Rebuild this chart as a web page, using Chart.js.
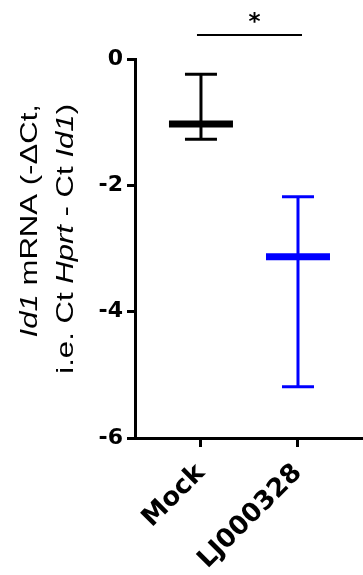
<!DOCTYPE html>
<html>
<head>
<meta charset="utf-8">
<script src="https://cdn.jsdelivr.net/npm/chart.js@4.4.0/dist/chart.umd.min.js"></script>
<style>
  html, body { margin: 0; padding: 0; background: #fff; }
  #wrap { width: 363px; height: 575px; }
</style>
</head>
<body>
<div id="wrap"><canvas id="myChart"></canvas></div>
<script>
// values
const groups = ['Mock', 'LJ000328'];
const means = [-1.03, -3.13];
const errHigh = [-0.24, -2.18];
const errLow = [-1.27, -5.19];
const yTicks = [0, -2, -4, -6];
const sigText = '*';

const groupColors = ['#000000', '#0000ff'];

// axis title, split in runs so the gene names can be italic
const titleLines = [
    [{ t: 'Id1', it: true }, { t: ' mRNA (-\u0394Ct,' }],
    [{ t: 'i.e. Ct ' }, { t: 'Hprt', it: true }, { t: ' - Ct ' }, { t: 'Id1', it: true }, { t: ')' }]
];

// Build the error bar datasets, one set per group
const datasets = [];
groups.forEach((g, i) => {
    const color = groupColors[i];
    // vertical whisker
    datasets.push({
        data: [{ x: i, y: errHigh[i] }, { x: i, y: errLow[i] }],
        showLine: true,
        borderColor: color,
        borderWidth: 3,
        pointRadius: 0
    });
    // caps
    datasets.push({
        data: [{ x: i, y: errHigh[i] }, { x: i, y: errLow[i] }],
        pointStyle: 'line',
        pointRadius: 16,
        pointBorderWidth: 3,
        pointBorderColor: color
    });
    // mean line
    datasets.push({
        data: [{ x: i, y: means[i] }],
        pointStyle: 'line',
        pointRadius: 32,
        pointBorderWidth: 7,
        pointBorderColor: color
    });
});

function drawRuns(ctx, runs, x, yTop, size, stretch) {
    ctx.save();
    ctx.translate(x, yTop);
    ctx.rotate(-Math.PI / 2);
    ctx.scale(stretch, 1);
    const fontOf = r => (r.it ? 'italic ' : '') + size + 'px "Liberation Sans", Arial, sans-serif';
    let total = 0;
    runs.forEach(r => { ctx.font = fontOf(r); total += ctx.measureText(r.t).width; });
    let pos = -total;
    ctx.textAlign = 'left';
    ctx.textBaseline = 'alphabetic';
    runs.forEach(r => {
        ctx.font = fontOf(r);
        ctx.fillText(r.t, pos, 0);
        pos += ctx.measureText(r.t).width;
    });
    ctx.restore();
}

const annotate = {
    id: 'annotate',
    afterDraw(chart) {
        const ctx = chart.ctx;
        const xs = chart.scales.x;
        ctx.save();
        ctx.fillStyle = '#000';
        ctx.strokeStyle = '#000';

        // significance bar between the two groups
        const x0 = xs.getPixelForValue(0) - 4;
        const x1 = xs.getPixelForValue(1) + 4;
        ctx.lineWidth = 2;
        ctx.beginPath();
        ctx.moveTo(x0, 35);
        ctx.lineTo(x1, 35);
        ctx.stroke();
        ctx.font = 'bold 23px "DejaVu Sans", sans-serif';
        ctx.textAlign = 'center';
        ctx.textBaseline = 'alphabetic';
        ctx.fillText(sigText, (x0 + x1) / 2 + 5, 29);

        // y axis title
        drawRuns(ctx, titleLines[0], 37, 104, 24.5, 1.27);
        drawRuns(ctx, titleLines[1], 73, 104, 24.5, 1.27);
        ctx.restore();
    }
};

const ctx = document.getElementById('myChart').getContext('2d');
new Chart(ctx, {
    type: 'scatter',
    data: { datasets: datasets },
    options: {
        responsive: true,
        maintainAspectRatio: false,
        animation: false,
        events: [],
        layout: {
            autoPadding: false,
            padding: { top: 59, right: 0, bottom: 0, left: 0 }
        },
        plugins: {
            legend: { display: false },
            tooltip: { enabled: false }
        },
        elements: { point: { hitRadius: 0 } },
        scales: {
            x: {
                type: 'linear',
                min: -0.68,
                max: 1.67,
                afterBuildTicks: s => { s.ticks = groups.map((g, i) => ({ value: i })); },
                afterFit: s => { s.height = 137; },
                ticks: {
                    callback: v => groups[v],
                    autoSkip: false,
                    minRotation: 45,
                    maxRotation: 45,
                    padding: 11,
                    color: '#000',
                    font: { family: 'DejaVu Sans', weight: 'bold', size: 26 }
                },
                grid: { drawOnChartArea: false, tickLength: 9, tickWidth: 3, tickColor: '#000' },
                border: { color: '#000', width: 3 }
            },
            y: {
                min: -6,
                max: 0,
                afterBuildTicks: s => { s.ticks = yTicks.map(v => ({ value: v })); },
                afterFit: s => { s.width = 135; },
                ticks: {
                    padding: 4,
                    color: '#000',
                    font: { family: 'DejaVu Sans', weight: 'bold', size: 22 }
                },
                grid: { drawOnChartArea: false, tickLength: 8, tickWidth: 3, tickColor: '#000' },
                border: { color: '#000', width: 3 }
            }
        }
    },
    plugins: [annotate]
});
</script>
</body>
</html>
